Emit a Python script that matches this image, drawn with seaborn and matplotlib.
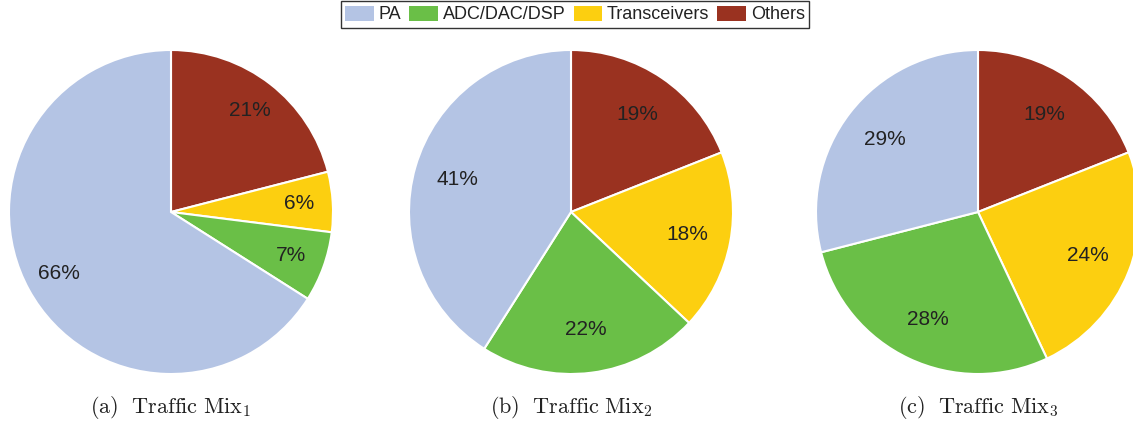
import matplotlib
matplotlib.use("Agg")
import matplotlib.pyplot as plt
from matplotlib.patches import Patch
import seaborn as sns

# Power breakdown per traffic mix (percent of total)
components = ["PA", "ADC/DAC/DSP", "Transceivers", "Others"]
mix_names = ["(a)", "(b)", "(c)"]
mix_pa = [66, 41, 29]
mix_adc = [7, 22, 28]
mix_trx = [6, 18, 24]
mix_other = [21, 19, 19]

sns.set_style("white")
plt.rcParams["font.family"] = ["Liberation Sans", "DejaVu Sans"]
plt.rcParams["mathtext.fontset"] = "cm"

palette = sns.color_palette(["#b4c4e4", "#6abf47", "#fccf10", "#9a3220"])
color_of = dict(zip(components, palette))

W, H = 1133, 423
fig = plt.figure(figsize=(W / 100, H / 100), dpi=100)

centers = [171, 571, 978]
radius = 162
cy = 212
pct_dist = [0.79, 0.73, 0.73]

for i, name in enumerate(mix_names):
    cx = centers[i]
    ax = fig.add_axes([(cx - radius) / W, (H - cy - radius) / H,
                       2 * radius / W, 2 * radius / H])
    # drawn clockwise from 12 o'clock: Others, Transceivers, ADC/DAC/DSP, PA
    order = ["Others", "Transceivers", "ADC/DAC/DSP", "PA"]
    vals = [mix_other[i], mix_trx[i], mix_adc[i], mix_pa[i]]
    ax.pie(vals, colors=[color_of[c] for c in order], startangle=90,
           counterclock=False, radius=1, autopct="%.0f%%",
           pctdistance=pct_dist[i],
           wedgeprops=dict(edgecolor="white", linewidth=1.5),
           textprops=dict(fontsize=15, color="#222222"))
    ax.set_xlim(-1, 1)
    ax.set_ylim(-1, 1)
    ax.set_axis_off()
    fig.text(cx / W, 1 - 407 / H,
             r"$\mathrm{%s\ \ Traffic\ Mix}_{%d}$" % (name, i + 1),
             ha="center", va="center", fontsize=16, color="#222222")

handles = [Patch(facecolor=color_of[c], edgecolor="none") for c in components]
leg = fig.legend(handles, components, loc="center", ncol=4,
                 bbox_to_anchor=(575 / W, 1 - 14.5 / H), fontsize=13,
                 frameon=True, fancybox=False, edgecolor="black",
                 handlelength=1.6, handleheight=0.9, handletextpad=0.25,
                 columnspacing=0.45, borderpad=0.25, borderaxespad=0)
leg.get_frame().set_linewidth(1.0)
for t in leg.get_texts():
    t.set_color("#222222")

fig.savefig("out.png", dpi=100)
